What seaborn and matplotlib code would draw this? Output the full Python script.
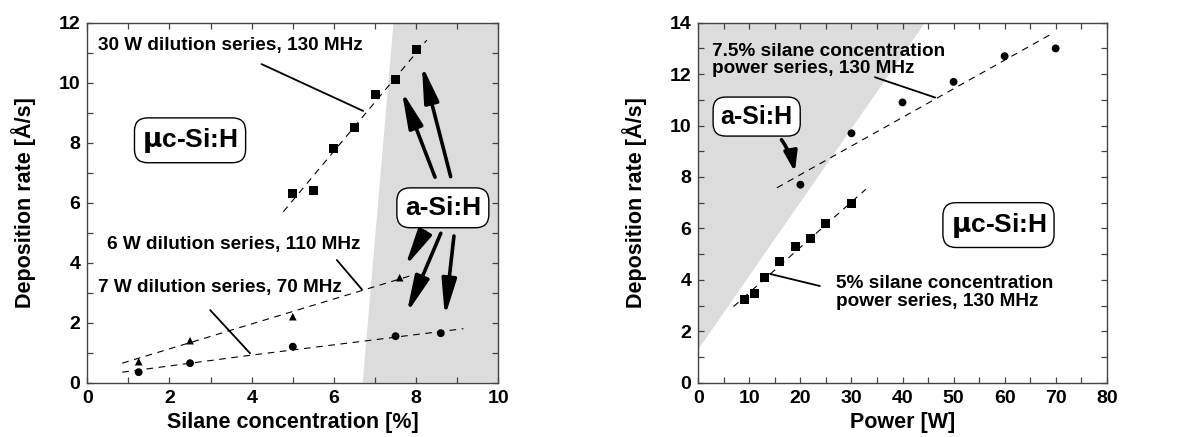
import numpy as np
import pandas as pd
import matplotlib
matplotlib.use("Agg")
import matplotlib.pyplot as plt
import seaborn as sns

# ---- dilution series (left panel) ----
silane_30w = [5.0, 5.5, 6.0, 6.5, 7.0, 7.5, 8.0]
rate_30w = [6.3, 6.4, 7.8, 8.5, 9.6, 10.1, 11.1]
silane_6w = [1.25, 2.5, 5.0, 7.6]
rate_6w = [0.7, 1.4, 2.2, 3.5]
silane_7w = [1.25, 2.5, 5.0, 7.5, 8.6]
rate_7w = [0.35, 0.65, 1.2, 1.55, 1.65]

# guide-to-the-eye lines
guide_30w_x = [4.77, 8.26]
guide_30w_y = [5.7, 11.42]
guide_6w_x = [0.85, 7.95]
guide_6w_y = [0.65, 3.6]
guide_7w_x = [0.85, 4.0, 9.15]
guide_7w_y = [0.35, 0.92, 1.8]

# amorphous growth region boundary (left)
asi_left_x = [6.7, 7.45, 10.0, 10.0]
asi_left_y = [0.0, 12.0, 12.0, 0.0]

# ---- power series (right panel) ----
power_75 = [20, 30, 40, 50, 60, 70]
rate_75 = [7.7, 9.7, 10.9, 11.7, 12.7, 13.0]
power_5 = [9, 11, 13, 16, 19, 22, 25, 30]
rate_5 = [3.25, 3.45, 4.1, 4.7, 5.3, 5.6, 6.2, 6.95]

guide_75_x = [15.4, 69.5]
guide_75_y = [7.58, 13.6]
guide_5_x = [6.9, 32.8]
guide_5_y = [2.96, 7.52]

asi_right_x = [0.0, 44.4, 0.0]
asi_right_y = [1.3, 14.0, 14.0]

sns.set_theme(style="ticks")
plt.rcParams["font.family"] = ["Liberation Sans", "DejaVu Sans"]
plt.rcParams["font.weight"] = "bold"
plt.rcParams["mathtext.fontset"] = "dejavusans"
for key in ["text.color", "axes.labelcolor", "xtick.labelcolor", "ytick.labelcolor"]:
    plt.rcParams[key] = "black"

fig = plt.figure(figsize=(12.04, 4.37), dpi=100)
axL = fig.add_axes([0.0725, 0.1243, 0.3414, 0.8237])
axR = fig.add_axes([0.5800, 0.1243, 0.3392, 0.8237])

shade = "#dcdcdc"
lab_fs = 15.5
tick_fs = 14
txt_fs = 13.7
big_fs = 19
box = dict(boxstyle="round,pad=0.3,rounding_size=0.5", fc="white", ec="black", lw=1.0)
arrow = dict(arrowstyle="-|>,head_length=1.1,head_width=0.22", lw=2.6, color="black",
             shrinkA=0, shrinkB=0, mutation_scale=20)
small_arrow = dict(arrowstyle="-|>,head_length=0.6,head_width=0.2", lw=2.6, color="black",
                   shrinkA=0, shrinkB=0, mutation_scale=20)
leader = dict(arrowstyle="-", lw=1.3, color="black", shrinkA=0, shrinkB=0)


def style_axis(ax, xmaj, xmin, ymaj, ymin):
    ax.xaxis.set_major_locator(matplotlib.ticker.MultipleLocator(xmaj))
    ax.xaxis.set_minor_locator(matplotlib.ticker.MultipleLocator(xmin))
    ax.yaxis.set_major_locator(matplotlib.ticker.MultipleLocator(ymaj))
    ax.yaxis.set_minor_locator(matplotlib.ticker.MultipleLocator(ymin))
    ax.tick_params(which="both", direction="in", top=True, right=True,
                   length=4, width=0.9, color="#444444", labelcolor="black",
                   labelsize=tick_fs, pad=5)
    for sp in ax.spines.values():
        sp.set_visible(True)
        sp.set_color("#444444")
        sp.set_linewidth(1.0)
    for t in ax.get_xticklabels() + ax.get_yticklabels():
        t.set_fontweight("bold")


def dashed(ax, x, y):
    sns.lineplot(x=x, y=y, ax=ax, color="black", lw=0.8, sort=False,
                 linestyle=(0, (6, 5)), estimator=None)


# ---------------- left panel ----------------
axL.fill(asi_left_x, asi_left_y, color=shade, lw=0, zorder=0)
dashed(axL, guide_30w_x, guide_30w_y)
dashed(axL, guide_6w_x, guide_6w_y)
dashed(axL, guide_7w_x, guide_7w_y)
sns.scatterplot(x=silane_30w, y=rate_30w, ax=axL, marker="s", s=42, color="black",
                edgecolor="none", zorder=3)
sns.scatterplot(x=silane_6w, y=rate_6w, ax=axL, marker="^", s=30, color="black",
                edgecolor="none", zorder=3)
sns.scatterplot(x=silane_7w, y=rate_7w, ax=axL, marker="o", s=32, color="black",
                edgecolor="none", zorder=3)
axL.set_xlim(0, 10)
axL.set_ylim(0, 12)
style_axis(axL, 2, 1, 2, 1)
axL.set_xlabel("Silane concentration [%]", fontsize=lab_fs, fontweight="bold", labelpad=4)
axL.set_ylabel("Deposition rate [Å/s]", fontsize=lab_fs, fontweight="bold", labelpad=16)

axL.text(0.25, 11.25, "30 W dilution series, 130 MHz", fontsize=txt_fs, fontweight="bold",
         va="center", ha="left")
axL.annotate("", xy=(6.71, 9.06), xytext=(4.24, 10.62), arrowprops=leader)
axL.text(0.47, 4.6, "6 W dilution series, 110 MHz", fontsize=txt_fs, fontweight="bold",
         va="center", ha="left")
axL.annotate("", xy=(6.68, 3.11), xytext=(6.07, 4.09), arrowprops=leader)
axL.text(0.25, 3.18, "7 W dilution series, 70 MHz", fontsize=txt_fs, fontweight="bold",
         va="center", ha="left")
axL.annotate("", xy=(3.96, 0.98), xytext=(2.99, 2.42), arrowprops=leader)

axL.text(2.5, 8.08, r"$\mathrm{\mu}$c-Si:H", fontsize=big_fs, fontweight="bold",
         ha="center", va="center", bbox=box, zorder=5)
axL.text(8.65, 5.83, "a-Si:H", fontsize=big_fs, fontweight="bold",
         ha="center", va="center", bbox=box, zorder=5)
for (tx, ty), (hx, hy) in [((8.46, 6.85), (7.65, 9.73)),
                           ((8.84, 6.87), (8.14, 10.59)),
                           ((8.22, 5.03), (7.73, 3.87)),
                           ((8.60, 4.98), (7.77, 2.31)),
                           ((8.92, 4.89), (8.70, 2.20))]:
    axL.annotate("", xy=(hx, hy), xytext=(tx, ty), arrowprops=arrow, zorder=4)

# ---------------- right panel ----------------
axR.fill(asi_right_x, asi_right_y, color=shade, lw=0, zorder=0)
dashed(axR, guide_75_x, guide_75_y)
dashed(axR, guide_5_x, guide_5_y)
sns.scatterplot(x=power_75, y=rate_75, ax=axR, marker="o", s=32, color="black",
                edgecolor="none", zorder=3)
sns.scatterplot(x=power_5, y=rate_5, ax=axR, marker="s", s=42, color="black",
                edgecolor="none", zorder=3)
axR.set_xlim(0, 80)
axR.set_ylim(0, 14)
style_axis(axR, 10, 5, 2, 1)
axR.set_xlabel("Power [W]", fontsize=lab_fs, fontweight="bold", labelpad=4)
axR.set_ylabel("Deposition rate [Å/s]", fontsize=lab_fs, fontweight="bold", labelpad=16)

axR.text(2.6, 12.55, "7.5% silane concentration\npower series, 130 MHz", fontsize=txt_fs,
         fontweight="bold", va="center", ha="left", linespacing=1.05)
axR.annotate("", xy=(46.4, 11.09), xytext=(34.6, 11.88), arrowprops=leader)
axR.text(26.9, 3.5, "5% silane concentration\npower series, 130 MHz", fontsize=txt_fs,
         fontweight="bold", va="center", ha="left", linespacing=1.05)
axR.annotate("", xy=(14.05, 4.23), xytext=(23.8, 3.76), arrowprops=leader)

axR.text(11.43, 10.35, "a-Si:H", fontsize=18, fontweight="bold",
         ha="center", va="center", bbox=box, zorder=5)
axR.text(58.8, 6.13, r"$\mathrm{\mu}$c-Si:H", fontsize=big_fs, fontweight="bold",
         ha="center", va="center", bbox=box, zorder=5)
axR.annotate("", xy=(18.9, 8.2), xytext=(16.3, 9.45),
             arrowprops=dict(small_arrow, connectionstyle="arc3,rad=-0.1"), zorder=4)

fig.savefig("out.png", dpi=100)
